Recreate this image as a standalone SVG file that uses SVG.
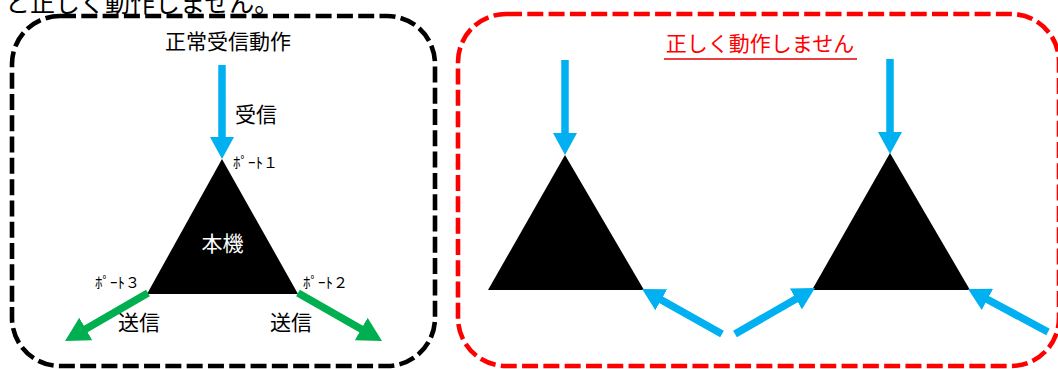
<svg xmlns="http://www.w3.org/2000/svg" width="1058" height="369" viewBox="0 0 1058 369">
  <style>
    text { font-family: "Noto Sans CJK JP", "Noto Sans", sans-serif; }
    .lbl { font-size: 21px; fill: #000; }
    .port { font-size: 15px; fill: #000; }
    .box { fill: none; stroke-width: 4.6; stroke-dasharray: 16 5.3; }
    .tri { fill: #000; }
    .blue { stroke: #00B0F0; stroke-width: 7.5; fill: none; }
    .green { stroke: #00B050; stroke-width: 7.5; fill: none; }
  </style>
  <defs>
    <marker id="headBlue" markerUnits="userSpaceOnUse" viewBox="0 0 22 24" markerWidth="22" markerHeight="24" refX="10" refY="12" orient="auto">
      <path d="M0,0 L22,12 L0,24 Z" fill="#00B0F0"/>
    </marker>
    <marker id="headGreen" markerUnits="userSpaceOnUse" viewBox="0 0 24 26" markerWidth="24" markerHeight="26" refX="12" refY="13" orient="auto">
      <path d="M0,0 L24,13 L0,26 Z" fill="#00B050"/>
    </marker>
  </defs>

  <text x="5" y="12" style="font-size:25px">と正しく動作しません。</text>

  <g id="frame-normal">
    <rect class="box" x="12" y="16" width="423" height="350" rx="48" ry="48" stroke="#000"/>
    <text class="lbl" x="228" y="49" text-anchor="middle">正常受信動作</text>
  </g>

  <g id="frame-wrong">
    <rect class="box" x="458" y="14" width="601" height="352" rx="48" ry="48" stroke="#FF0000"/>
    <text x="760" y="51" text-anchor="middle" style="font-size:21px; fill:#FF0000">正しく動作しません</text>
    <line x1="664" y1="59" x2="857" y2="59" stroke="#E00000" stroke-width="1.5"/>
  </g>

  <g id="node-main">
    <polygon class="tri" points="222,159 147,294 298,294"/>
    <text x="222.5" y="251" text-anchor="middle" style="font-size:21px; fill:#fff">本機</text>
    <text class="port" x="233" y="168">ﾎﾟｰﾄ１</text>
    <text class="port" x="303" y="288">ﾎﾟｰﾄ２</text>
    <text class="port" x="95" y="288">ﾎﾟｰﾄ３</text>
  </g>

  <g id="node-wrong-1">
    <polygon class="tri" points="565,155 488,290 644,290"/>
  </g>
  <g id="node-wrong-2">
    <polygon class="tri" points="890,153 812,290 970,290"/>
  </g>

  <g id="connectors">
    <line class="blue" x1="222" y1="65" x2="222" y2="147" marker-end="url(#headBlue)"/>
    <text class="lbl" x="235" y="122">受信</text>
    <line class="green" x1="148" y1="293" x2="75.4" y2="335" marker-end="url(#headGreen)"/>
    <line class="green" x1="298" y1="293" x2="371.6" y2="335" marker-end="url(#headGreen)"/>
    <text class="lbl" x="118" y="330">送信</text>
    <text class="lbl" x="270" y="330">送信</text>

    <line class="blue" x1="565" y1="60" x2="565" y2="143" marker-end="url(#headBlue)"/>
    <line class="blue" x1="890" y1="59" x2="890" y2="142" marker-end="url(#headBlue)"/>
    <line class="blue" x1="722" y1="334" x2="652.5" y2="294.9" marker-end="url(#headBlue)"/>
    <line class="blue" x1="735" y1="334" x2="804.6" y2="294" marker-end="url(#headBlue)"/>
    <line class="blue" x1="1048" y1="332" x2="978.6" y2="294.7" marker-end="url(#headBlue)"/>
  </g>
</svg>
